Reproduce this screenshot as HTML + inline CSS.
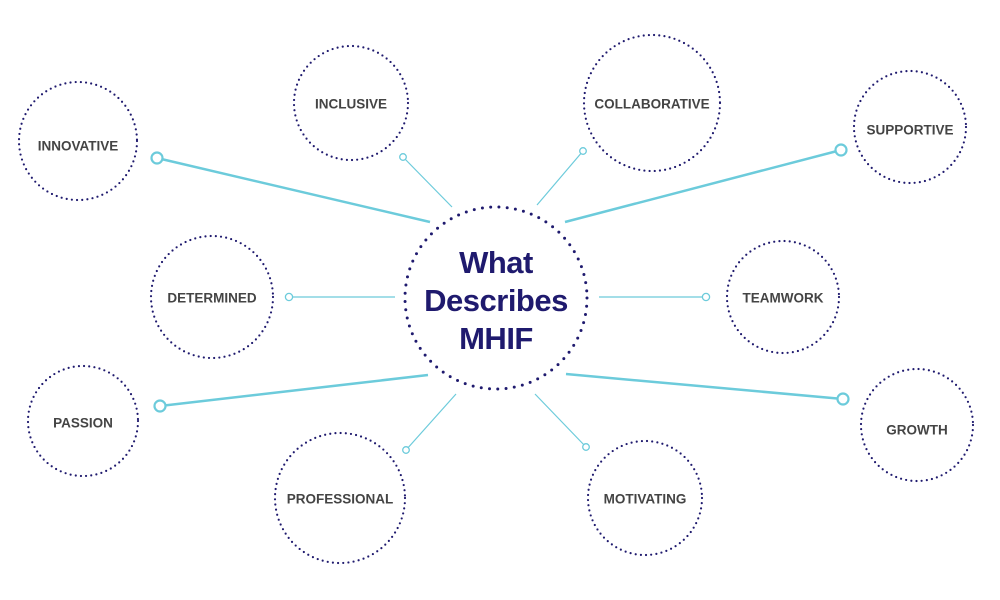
<!DOCTYPE html>
<html><head><meta charset="utf-8"><style>
html,body{margin:0;padding:0;background:#fff;}
svg{display:block}
text{font-family:"Liberation Sans",Arial,sans-serif;font-weight:bold;}
.c{fill:none;stroke:#1f1a6e;stroke-width:2.2;stroke-linecap:round;stroke-dasharray:0 5.2;}
.l{stroke:#6ccbdb;}
.t{fill:#444;font-size:13.5px;text-anchor:middle;dominant-baseline:central;}
</style></head><body>
<svg width="1000" height="600" viewBox="0 0 1000 600">
<g class="l" fill="#fff">
<line x1="157" y1="158" x2="430" y2="222" stroke-width="2.5"/><circle cx="157" cy="158" r="5.5" stroke-width="2.2"/>
<line x1="403" y1="157" x2="452" y2="207" stroke-width="1.2"/><circle cx="403" cy="157" r="3.3" stroke-width="1.3"/>
<line x1="583" y1="151" x2="537" y2="205" stroke-width="1.2"/><circle cx="583" cy="151" r="3.3" stroke-width="1.3"/>
<line x1="841" y1="150" x2="565" y2="222" stroke-width="2.5"/><circle cx="841" cy="150" r="5.5" stroke-width="2.2"/>
<line x1="289" y1="297" x2="395" y2="297" stroke-width="1.2"/><circle cx="289" cy="297" r="3.6" stroke-width="1.3"/>
<line x1="599" y1="297" x2="706" y2="297" stroke-width="1.2"/><circle cx="706" cy="297" r="3.6" stroke-width="1.3"/>
<line x1="160" y1="406" x2="428" y2="375" stroke-width="2.5"/><circle cx="160" cy="406" r="5.5" stroke-width="2.2"/>
<line x1="406" y1="450" x2="456" y2="394" stroke-width="1.2"/><circle cx="406" cy="450" r="3.3" stroke-width="1.3"/>
<line x1="586" y1="447" x2="535" y2="394" stroke-width="1.2"/><circle cx="586" cy="447" r="3.3" stroke-width="1.3"/>
<line x1="843" y1="399" x2="566" y2="374" stroke-width="2.5"/><circle cx="843" cy="399" r="5.5" stroke-width="2.2"/>
</g>
<circle cx="496" cy="298" r="91" fill="none" stroke="#1f1a6e" stroke-width="3" stroke-linecap="round" stroke-dasharray="0 8.3"/>
<circle class="c" cx="78" cy="141" r="59"/>
<circle class="c" cx="351" cy="103" r="57"/>
<circle class="c" cx="652" cy="103" r="68"/>
<circle class="c" cx="910" cy="127" r="56"/>
<circle class="c" cx="212" cy="297" r="61"/>
<circle class="c" cx="783" cy="297" r="56"/>
<circle class="c" cx="83" cy="421" r="55"/>
<circle class="c" cx="340" cy="498" r="65"/>
<circle class="c" cx="645" cy="498" r="57"/>
<circle class="c" cx="917" cy="425" r="56"/>
<text class="t" x="78" y="146">INNOVATIVE</text>
<text class="t" x="351" y="104">INCLUSIVE</text>
<text class="t" x="652" y="104">COLLABORATIVE</text>
<text class="t" x="910" y="130">SUPPORTIVE</text>
<text class="t" x="212" y="298">DETERMINED</text>
<text class="t" x="783" y="298">TEAMWORK</text>
<text class="t" x="83" y="423">PASSION</text>
<text class="t" x="340" y="499">PROFESSIONAL</text>
<text class="t" x="645" y="499">MOTIVATING</text>
<text class="t" x="917" y="430">GROWTH</text>
<g fill="#1f1a6e" font-size="31" text-anchor="middle" letter-spacing="-0.5">
<text x="496" y="273">What</text>
<text x="496" y="311">Describes</text>
<text x="496" y="349">MHIF</text>
</g>
</svg>
</body></html>
